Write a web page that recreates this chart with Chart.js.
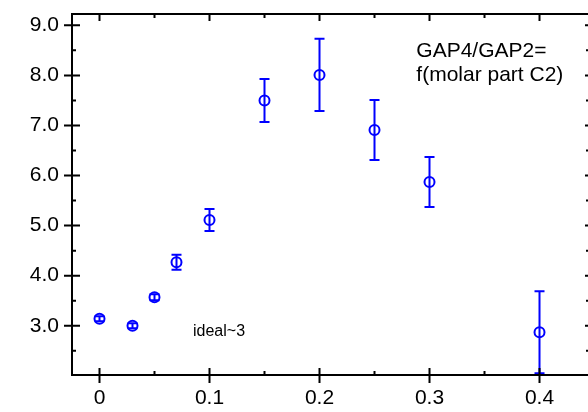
<!DOCTYPE html>
<html>
<head>
<meta charset="utf-8">
<script src="https://cdn.jsdelivr.net/npm/chart.js@4"></script>
<style>
  html { margin: 0; padding: 0; overflow: hidden; background: #fff; }
  body { margin: 0; padding: 0; background: #fff; }
  #wrap { position: absolute; left: 0; top: 0; width: 592px; height: 412px; }
  #gapChart { display: block; width: 592px; height: 412px; }
</style>
</head>
<body>
<div id="wrap"><canvas id="gapChart" width="592" height="412"></canvas></div>
<script>
// molar part C2 vs GAP4/GAP2 ratio
var molarPart = [0, 0.03, 0.05, 0.07, 0.1, 0.15, 0.2, 0.25, 0.3, 0.4];
var gapRatio = [3.14, 3.0, 3.57, 4.27, 5.11, 7.5, 8.01, 6.91, 5.87, 2.87];
var gapError = [0.05, 0.05, 0.06, 0.15, 0.22, 0.43, 0.72, 0.6, 0.5, 0.82];

var xTickValues = [0, 0.1, 0.2, 0.3, 0.4];
var xTickLabels = ['0', '0.1', '0.2', '0.3', '0.4'];
var xMinorValues = [0.05, 0.15, 0.25, 0.35];
var yTickValues = [3, 4, 5, 6, 7, 8, 9];
var yTickLabels = ['3.0', '4.0', '5.0', '6.0', '7.0', '8.0', '9.0'];
var yMinorValues = [2.5, 3.5, 4.5, 5.5, 6.5, 7.5, 8.5];

var notes = [
    { text: 'GAP4/GAP2=', x: 0.288, y: 8.37, size: 21 },
    { text: 'f(molar part C2)', x: 0.288, y: 7.89, size: 21 },
    { text: 'ideal~3', x: 0.085, y: 2.79, size: 16 }
];

var fontFamily = '"Liberation Sans", Arial, Helvetica, sans-serif';
var blue = '#0000ff';

// keep the plot box where the reference has it, no label overhang padding
function noPadding(s) {
    s.paddingTop = 0;
    s.paddingBottom = 0;
    s.paddingLeft = 0;
    s.paddingRight = 0;
}

document.addEventListener("DOMContentLoaded", function () {

    var ctx = document.getElementById('gapChart').getContext('2d');

    var points = molarPart.map(function (m, i) {
        return { x: m, y: gapRatio[i] };
    });

    // error bars, frame with ticks in both directions and the text notes
    var extras = {
        id: 'extras',
        beforeDatasetsDraw: function (chart) {
            var c = chart.ctx;
            var xs = chart.scales.x, ys = chart.scales.y;
            c.save();
            c.strokeStyle = blue;
            c.lineWidth = 2;
            molarPart.forEach(function (m, i) {
                var px = xs.getPixelForValue(m);
                var top = ys.getPixelForValue(gapRatio[i] + gapError[i]);
                var bot = ys.getPixelForValue(gapRatio[i] - gapError[i]);
                c.beginPath();
                c.moveTo(px, top); c.lineTo(px, bot);
                c.moveTo(px - 5, top); c.lineTo(px + 5, top);
                c.moveTo(px - 5, bot); c.lineTo(px + 5, bot);
                c.stroke();
            });
            c.restore();
        },
        afterDatasetsDraw: function (chart) {
            var c = chart.ctx;
            var a = chart.chartArea;
            var xs = chart.scales.x, ys = chart.scales.y;
            c.save();
            c.strokeStyle = '#000';
            c.lineWidth = 2;
            c.strokeRect(a.left, a.top, a.right - a.left, a.bottom - a.top);

            c.beginPath();
            xTickValues.forEach(function (v) {
                var px = xs.getPixelForValue(v);
                c.moveTo(px, a.bottom - 7); c.lineTo(px, a.bottom + 8);
                c.moveTo(px, a.top); c.lineTo(px, a.top + 7);
            });
            xMinorValues.forEach(function (v) {
                var px = xs.getPixelForValue(v);
                c.moveTo(px, a.bottom - 4); c.lineTo(px, a.bottom);
                c.moveTo(px, a.top); c.lineTo(px, a.top + 4);
            });
            yTickValues.forEach(function (v) {
                var py = ys.getPixelForValue(v);
                c.moveTo(a.left - 8, py); c.lineTo(a.left + 8, py);
                c.moveTo(a.right - 5, py); c.lineTo(a.right, py);
            });
            yMinorValues.forEach(function (v) {
                var py = ys.getPixelForValue(v);
                c.moveTo(a.left, py); c.lineTo(a.left + 4, py);
                c.moveTo(a.right - 4, py); c.lineTo(a.right, py);
            });
            c.stroke();

            c.fillStyle = '#000';
            c.textAlign = 'left';
            c.textBaseline = 'alphabetic';
            notes.forEach(function (n) {
                c.font = n.size + 'px ' + fontFamily;
                c.fillText(n.text, xs.getPixelForValue(n.x), ys.getPixelForValue(n.y));
            });
            c.restore();
        }
    };

    var gapChart = new Chart(ctx, {
        type: 'scatter',
        data: {
            datasets: [{
                label: 'GAP4/GAP2',
                data: points,
                borderColor: blue,
                backgroundColor: 'rgba(0,0,0,0)',
                pointRadius: 5,
                pointHoverRadius: 5,
                pointBorderWidth: 2,
                showLine: false
            }]
        },
        options: {
            responsive: false,
            animation: false,
            devicePixelRatio: 1,
            layout: {
                autoPadding: false,
                padding: { top: 14, right: 2, left: 0, bottom: 0 }
            },
            scales: {
                x: {
                    type: 'linear',
                    min: -0.025,
                    max: 0.4459,
                    grid: { display: false, drawTicks: false },
                    border: { display: false },
                    afterBuildTicks: function (s) {
                        s.ticks = xTickValues.map(function (v) { return { value: v }; });
                    },
                    afterFit: function (s) { s.height = 37; noPadding(s); },
                    ticks: {
                        padding: 11,
                        color: '#000',
                        font: { family: fontFamily, size: 21 },
                        maxRotation: 0,
                        callback: function (value, index) { return xTickLabels[index]; }
                    }
                },
                y: {
                    type: 'linear',
                    min: 2.016,
                    max: 9.226,
                    grid: { display: false, drawTicks: false },
                    border: { display: false },
                    afterBuildTicks: function (s) {
                        s.ticks = yTickValues.map(function (v) { return { value: v }; });
                    },
                    afterFit: function (s) { s.width = 72; noPadding(s); },
                    ticks: {
                        padding: 13,
                        color: '#000',
                        font: { family: fontFamily, size: 21 },
                        callback: function (value, index) { return yTickLabels[index]; }
                    }
                }
            },
            plugins: {
                legend: { display: false },
                tooltip: { enabled: false }
            }
        },
        plugins: [extras]
    });
});
</script>
</body>
</html>
